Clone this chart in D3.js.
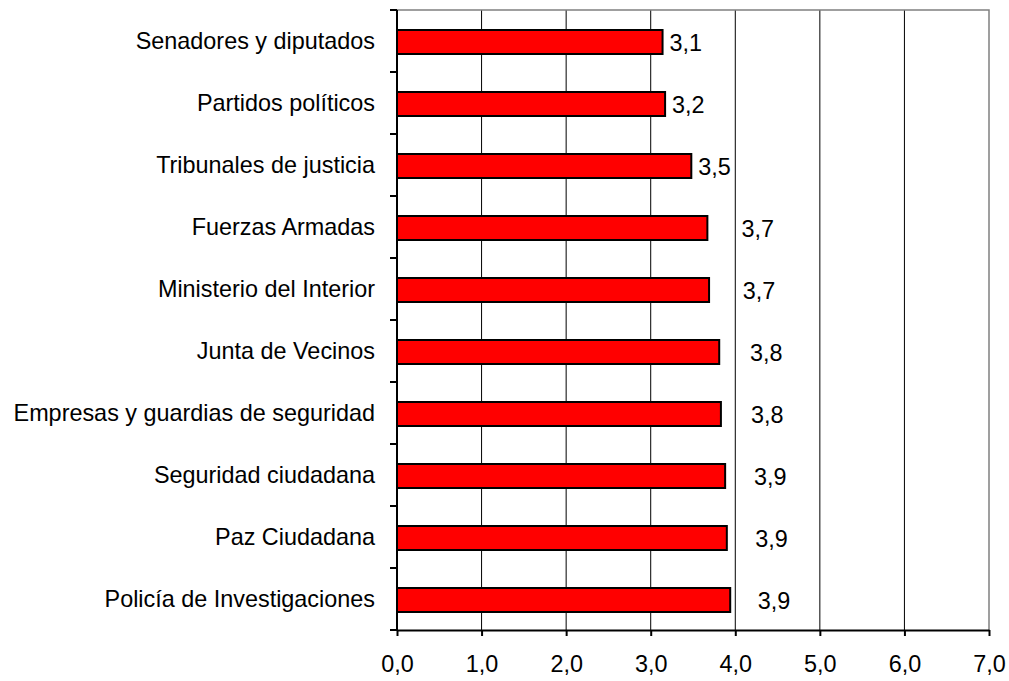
<!DOCTYPE html>
<html>
<head>
<meta charset="utf-8">
<script src="https://cdn.jsdelivr.net/npm/d3@7"></script>
<style>
  body { margin: 0; background: #fff; }
  text { font-family: "Liberation Sans", Arial, sans-serif; fill: #000; }
</style>
</head>
<body>
<div id="chart"></div>
<script>
var categories = [
  "Senadores y diputados",
  "Partidos políticos",
  "Tribunales de justicia",
  "Fuerzas Armadas",
  "Ministerio del Interior",
  "Junta de Vecinos",
  "Empresas y guardias de seguridad",
  "Seguridad ciudadana",
  "Paz Ciudadana",
  "Policía de Investigaciones"
];
var values = [3.14, 3.17, 3.48, 3.67, 3.69, 3.81, 3.83, 3.88, 3.90, 3.94];
var xTicks = [0, 1, 2, 3, 4, 5, 6, 7];

var width = 1009,
    height = 681,
    plotLeft = 397, plotRight = 989,
    plotTop = 10, plotBottom = 630,
    barHeight = 24,
    fontSize = 23.4;

function fmt(d) { return d.toFixed(1).replace(".", ","); }

var svg = d3.select("#chart")
  .append("svg")
  .attr("width", width)
  .attr("height", height);

svg.append("rect").attr("width", width).attr("height", height).attr("fill", "#fff");

var x = d3.scaleLinear().domain([0, 7]).range([plotLeft, plotRight]);
var y = d3.scaleBand().domain(categories).range([plotTop, plotBottom]).padding(0);

// gridlines
svg.selectAll(".grid")
  .data(xTicks.slice(1, -1))
  .enter()
  .append("line")
  .attr("x1", function(d) { return x(d); })
  .attr("x2", function(d) { return x(d); })
  .attr("y1", plotTop)
  .attr("y2", plotBottom)
  .attr("stroke", "#000")
  .attr("stroke-width", 1);

// plot border (top / right)
svg.append("path")
  .attr("d", "M" + plotLeft + "," + plotTop + "H" + plotRight + "V" + plotBottom)
  .attr("fill", "none")
  .attr("stroke", "#808080")
  .attr("stroke-width", 1.5);

// bars
svg.selectAll(".bar")
  .data(values)
  .enter()
  .append("rect")
  .attr("x", x(0))
  .attr("y", function(d, i) { return y(categories[i]) + (y.bandwidth() - barHeight) / 2 + 1; })
  .attr("width", function(d) { return x(d) - x(0); })
  .attr("height", barHeight)
  .attr("fill", "#ff0000")
  .attr("stroke", "#000")
  .attr("stroke-width", 2);

// value labels: pushed past the gridline when they would cross it
function labelX(d) {
  var lx = x(d) + 7;
  var nextGrid = x(Math.ceil(d));
  if (lx + 32 > nextGrid) lx = nextGrid + 8 + (d - 3.7) * 60;
  return lx;
}

svg.selectAll(".val")
  .data(values)
  .enter()
  .append("text")
  .attr("x", labelX)
  .attr("y", function(d, i) { return y(categories[i]) + y.bandwidth() / 2 + 2; })
  .attr("dy", ".35em")
  .attr("font-size", fontSize)
  .text(function(d) { return fmt(d); });

// x axis
var xAxis = d3.axisBottom(x)
  .tickValues(xTicks)
  .tickFormat(fmt)
  .tickSizeInner(6)
  .tickSizeOuter(0)
  .tickPadding(19);

var gx = svg.append("g")
  .attr("transform", "translate(0," + plotBottom + ")")
  .call(xAxis);
gx.select(".domain").attr("stroke", "#000").attr("stroke-width", 2);
gx.selectAll(".tick line").attr("stroke", "#000").attr("stroke-width", 2);
gx.selectAll("text").attr("font-size", fontSize).attr("font-family", "Liberation Sans, Arial, sans-serif").attr("fill", "#000");

// y axis
var boundaries = categories.map(function(c) { return y(c); }).concat([plotBottom]);
svg.append("line")
  .attr("x1", plotLeft).attr("x2", plotLeft)
  .attr("y1", plotTop).attr("y2", plotBottom)
  .attr("stroke", "#000").attr("stroke-width", 2);
svg.selectAll(".ytick")
  .data(boundaries)
  .enter()
  .append("line")
  .attr("x1", plotLeft - 7).attr("x2", plotLeft)
  .attr("y1", function(d) { return d; })
  .attr("y2", function(d) { return d; })
  .attr("stroke", "#000").attr("stroke-width", 2);

svg.selectAll(".cat")
  .data(categories)
  .enter()
  .append("text")
  .attr("x", 375)
  .attr("y", function(d) { return y(d) + y.bandwidth() / 2; })
  .attr("dy", ".35em")
  .attr("text-anchor", "end")
  .attr("font-size", fontSize)
  .text(function(d) { return d; });
</script>
</body>
</html>
